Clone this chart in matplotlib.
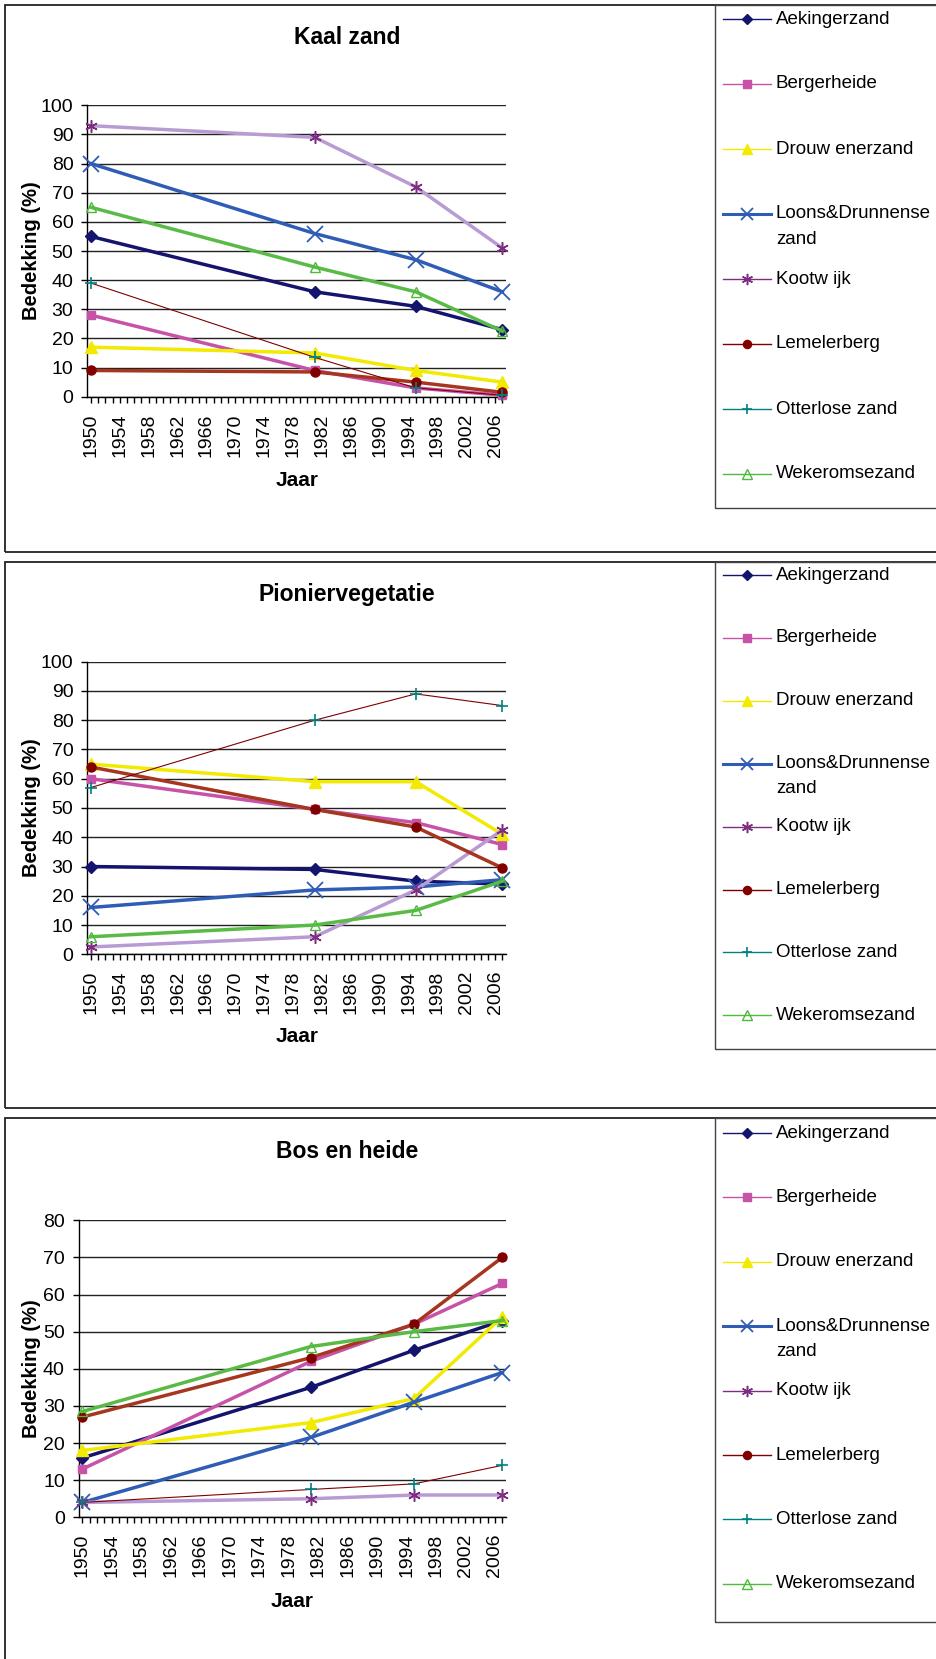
import numpy as np
import matplotlib.pyplot as plt
from matplotlib.lines import Line2D
from matplotlib.patches import Rectangle

W, H = 937, 1659

# data -----------------------------------------------------------
years = [1950, 1981, 1995, 2007]
sites = ['Aekingerzand', 'Bergerheide', 'Drouw enerzand', 'Loons&Drunnense\nzand',
         'Kootw ijk', 'Lemelerberg', 'Otterlose zand', 'Wekeromsezand']
titles = ['Kaal zand', 'Pioniervegetatie', 'Bos en heide']

# one row per site, in the order of `sites`
kaal_zand = [
    [55, 36, 31, 23],
    [28, 9, 3, 0.5],
    [17, 15, 9, 5],
    [80, 56, 47, 36],
    [93, 89, 72, 51],
    [9, 8.5, 5, 1.5],
    [39, 13.5, 3, 0.5],
    [65, 44.5, 36, 22.5],
]
pioniervegetatie = [
    [30, 29, 25, 24],
    [60, 49.5, 45, 37.5],
    [65, 59, 59, 41],
    [16, 22, 23, 25.5],
    [2.5, 6, 22, 42.5],
    [64, 49.5, 43.5, 29.5],
    [57, 80, 89, 85],
    [6, 10, 15, 25],
]
bos_en_heide = [
    [16, 35, 45, 53],
    [13, 42, 52, 63],
    [18, 25.5, 32, 54],
    [4, 21.5, 31, 39],
    [4, 5, 6, 6],
    [27, 43, 52, 70],
    [4, 7.5, 9, 14],
    [28.5, 46, 50, 53],
]
panel_data = [kaal_zand, pioniervegetatie, bos_en_heide]
y_max = [100, 100, 80]

# styles ---------------------------------------------------------
line_colors = ['#14146E', '#C653A8', '#F2EA00', '#2F5DB5', '#B99BD3', '#A6361F', '#800000', '#59BB45']
mark_colors = ['#14146E', '#C653A8', '#F2EA00', '#2F5DB5', '#7F2D80', '#800000', '#008080', '#4CBB3A']
markers = ['D', 's', '^', 'x', (6, 2, 0), 'o', '+', '^']
msizes = [6, 6, 8, 11, 9, 6.5, 8.5, 7.5]
mews = [1, 1, 1, 1.3, 1.1, 1, 1.2, 1]
line_w = [2.5, 2.5, 2.5, 2.5, 2.5, 2.5, 0.8, 2.5]
hollow = [False] * 7 + [True]

FONT = ['Liberation Sans', 'DejaVu Sans']

# layout in pixels of the reference
panel_top = [5, 562, 1118]
panel_bot = [552, 1108, 1700]
ax_box = [(87.3, 105.3, 506, 396.7), (87.3, 661.7, 506, 954.3), (78.7, 1220.3, 506, 1517.3)]
title_y = [37.7, 594.3, 1151.7]
jaar_xy = [(296.7, 480), (296.7, 1036.7), (291.7, 1601.7)]
leg_first = [19, 575, 1133]
leg_step = [65, 62.9, 64.4]
leg_bot = [508, 1049, 1622]


def fx(x):
    return x / W


def fy(y):
    return 1 - y / H


fig = plt.figure(figsize=(W / 100, H / 100), dpi=100)
fig.patch.set_facecolor('white')

for p in range(3):
    # panel frame and legend frame
    fig.add_artist(Rectangle((fx(5), fy(panel_bot[p])), fx(960 - 5), (panel_bot[p] - panel_top[p]) / H,
                             transform=fig.transFigure, fill=False, edgecolor='#222222', lw=1.3))
    fig.add_artist(Rectangle((fx(715), fy(leg_bot[p])), fx(960 - 715), (leg_bot[p] - panel_top[p]) / H,
                             transform=fig.transFigure, fill=False, edgecolor='#444444', lw=1.0))

    l, t, r, b = ax_box[p]
    ax = fig.add_axes([fx(l), fy(b), (r - l) / W, (b - t) / H])
    ax.set_axisbelow(True)

    for i, vals in enumerate(panel_data[p]):
        ax.plot(years, vals, color=line_colors[i], lw=line_w[i], zorder=3 + i,
                solid_joinstyle='round', clip_on=False)
        ax.plot(years, vals, ls='none', marker=markers[i], ms=msizes[i], mew=mews[i],
                mec=mark_colors[i], mfc='none' if hollow[i] else mark_colors[i],
                zorder=3 + i, clip_on=False)

    ax.set_xlim(1949.5, 2007.5)
    ax.set_ylim(0, y_max[p])
    ax.set_yticks(range(0, y_max[p] + 1, 10))
    ax.set_xticks(range(1950, 2007, 4))
    ax.set_xticks(range(1950, 2008), minor=True)
    ax.grid(axis='y', color='#222222', lw=1)
    for s in ['top', 'right']:
        ax.spines[s].set_visible(False)
    for s in ['left', 'bottom']:
        ax.spines[s].set_color('black')
        ax.spines[s].set_linewidth(1)
    ax.tick_params(axis='x', which='both', direction='out', length=4, width=1, pad=8)
    ax.tick_params(axis='y', direction='out', length=4, width=1, pad=6)
    for lab in ax.get_xticklabels():
        lab.set_rotation(90)
        lab.set_fontsize(14)
        lab.set_family(FONT)
    for lab in ax.get_yticklabels():
        lab.set_fontsize(14)
        lab.set_family(FONT)

    fig.text(fx(346.7), fy(title_y[p]), titles[p], ha='center', va='center',
             fontsize=16.5, fontweight='bold', family=FONT)
    fig.text(fx(31.7), fy((t + b) / 2), 'Bedekking (%)', rotation=90, ha='center', va='center',
             fontsize=14.5, fontweight='bold', family=FONT)
    fig.text(fx(jaar_xy[p][0]), fy(jaar_xy[p][1]), 'Jaar', ha='center', va='center',
             fontsize=15, fontweight='bold', family=FONT)

    # legend drawn by hand
    for i, name in enumerate(sites):
        y = leg_first[p] + i * leg_step[p]
        fig.add_artist(Line2D([fx(723), fx(747), fx(771)], [fy(y)] * 3, transform=fig.transFigure,
                              color=mark_colors[i] if i != 3 else line_colors[i],
                              lw=2.2 if i == 3 else 1.0, marker=markers[i], markevery=[1],
                              ms=msizes[i] * 0.9 if i != 3 else 8, mew=mews[i], mec=mark_colors[i],
                              mfc='none' if hollow[i] else mark_colors[i]))
        for k, part in enumerate(name.split('\n')):
            fig.text(fx(776), fy(y + k * 25), part, ha='left', va='center',
                     fontsize=13.5, family=FONT)

fig.savefig('out.png', dpi=100)
